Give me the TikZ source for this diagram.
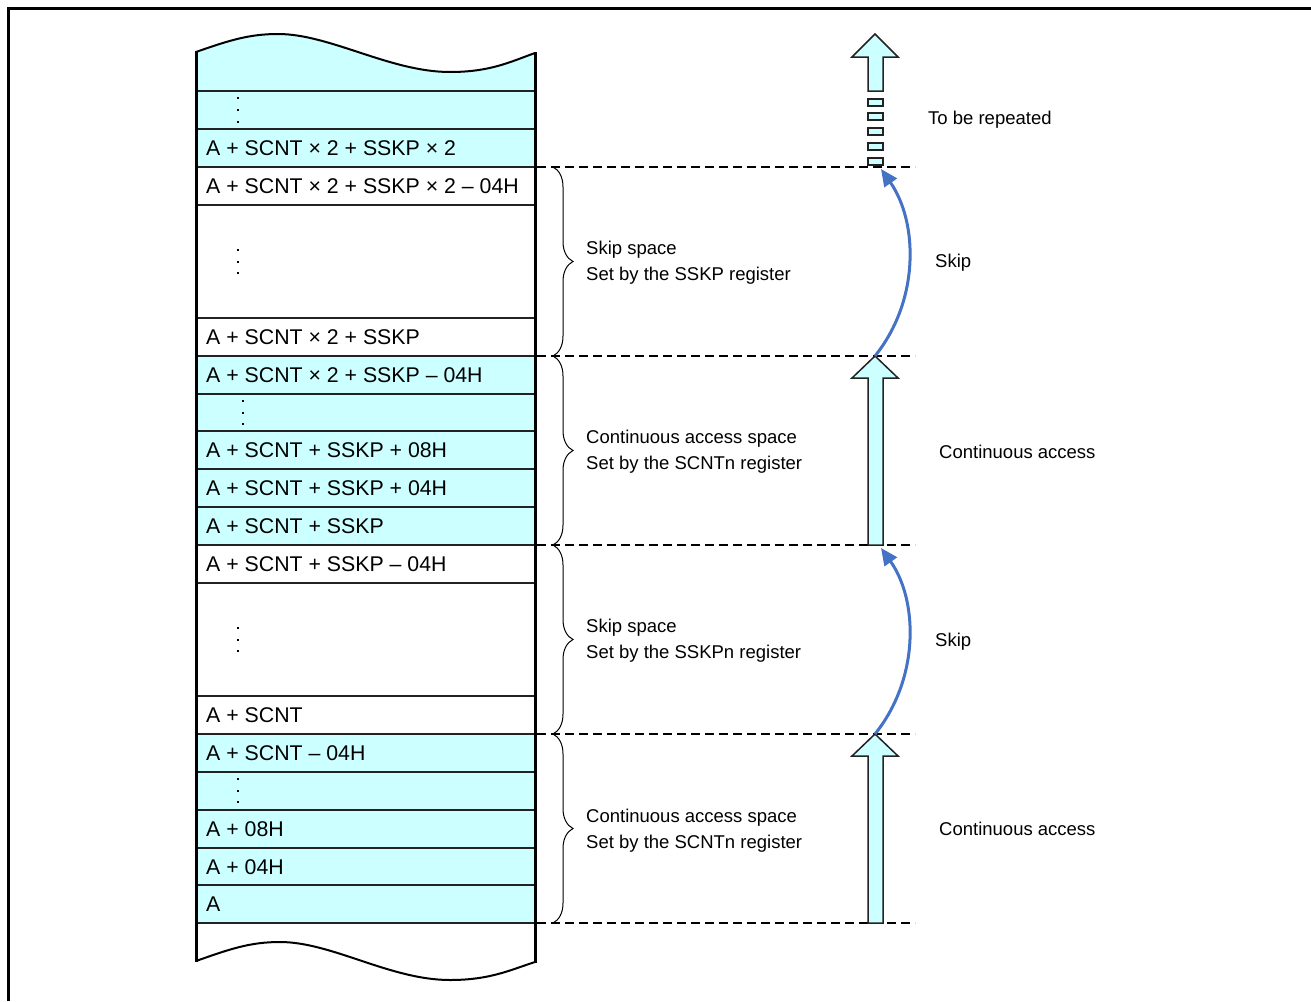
\documentclass[tikz,border=0pt]{standalone}
\usepackage{fontspec}
\setmainfont{Liberation Sans}
\usetikzlibrary{decorations.pathreplacing,arrows.meta}
\definecolor{memcyan}{HTML}{CCFFFF}
\definecolor{arrblue}{HTML}{4472C4}
\definecolor{edgegray}{HTML}{222222}
\begin{document}
\begin{tikzpicture}[x=1pt,y=-1pt,
 celltext/.style={anchor=base west, inner sep=0pt, font=\fontsize{21.3}{24}\selectfont},
 sidetext/.style={anchor=base west, inner sep=0pt, font=\fontsize{18.5}{22}\selectfont},
 rowline/.style={line width=1.5pt, draw=edgegray},
 sepline/.style={line width=1.8pt, dash pattern=on 9pt off 5pt},
 bracestyle/.style={decorate, decoration={brace, amplitude=20pt}, line width=1pt},
 blockarrow/.style={fill=memcyan, draw=edgegray, line width=1.5pt, line join=miter},
 skiparrow/.style={draw=arrblue, line width=3pt, -{Triangle[length=17pt,width=15pt]}},
 wave/.style={line width=2pt}
]
\useasboundingbox (0,0) rectangle (1311,1001);
% frame
\draw[line width=2.5pt] (8.5,1001) -- (8.5,8.5) -- (1311,8.5);

% memory fills
\fill[memcyan] (196,52) .. controls (230,40) and (250,34) .. (278,34)
  .. controls (330,34) and (390,72) .. (450,72)
  .. controls (490,72) and (510,62) .. (535,53) -- (535,167) -- (196,167) -- cycle;
\fill[memcyan] (196,356) rectangle (535,545);
\fill[memcyan] (196,734) rectangle (535,923);

% row lines
\foreach \yy in {91,129,167,205,318,356,394,431,469,507,545,583,696,734,772,810,848,885,923}
  \draw[rowline] (196,\yy) -- (535,\yy);

% wavy ends
\draw[wave] (196,52) .. controls (230,40) and (250,34) .. (278,34)
  .. controls (330,34) and (390,72) .. (450,72)
  .. controls (490,72) and (510,62) .. (535,53);
\draw[wave] (196,961) .. controls (230,949) and (250,942) .. (280,942)
  .. controls (332,942) and (390,980) .. (450,980)
  .. controls (490,980) and (510,970) .. (535,962);
% side walls
\draw[line width=3pt] (196,51) -- (196,962);
\draw[line width=3pt] (535,52) -- (535,963);

% dots
\foreach \xx/\ya/\yb/\yc in {238/98/110/122, 238/250/262/273, 243/401/413/424, 238/628/640/651, 238/779/791/802}{
  \fill (\xx-1.3,\ya-1.3) rectangle ++(2.6,2.6);
  \fill (\xx-1.3,\yb-1.3) rectangle ++(2.6,2.6);
  \fill (\xx-1.3,\yc-1.3) rectangle ++(2.6,2.6);
}

% cell texts
\node[celltext] (c1) at (206,155) {A + SCNT × 2 + SSKP × 2};
\node[celltext] (c2) at (206,193) {A + SCNT × 2 + SSKP × 2 – 04H};
\node[celltext] (c3) at (206,344) {A + SCNT × 2 + SSKP};
\node[celltext] (c4) at (206,382) {A + SCNT × 2 + SSKP – 04H};
\node[celltext] (c5) at (206,457) {A + SCNT + SSKP + 08H};
\node[celltext] (c6) at (206,495) {A + SCNT + SSKP + 04H};
\node[celltext] (c7) at (206,533) {A + SCNT + SSKP};
\node[celltext] (c8) at (206,571) {A + SCNT + SSKP – 04H};
\node[celltext] (c9) at (206,722) {A + SCNT};
\node[celltext] (c10) at (206,760) {A + SCNT – 04H};
\node[celltext] (c11) at (206,836) {A + 08H};
\node[celltext] (c12) at (206,874) {A + 04H};
\node[celltext] (c13) at (206,911) {A};

% dashed separators
\foreach \yy in {167,356,545,734,923}
  \draw[sepline] (537,\yy) -- (915,\yy);

% braces
\draw[bracestyle] (553,167) -- (553,356);
\draw[bracestyle] (553,356) -- (553,545);
\draw[bracestyle] (553,545) -- (553,734);
\draw[bracestyle] (553,734) -- (553,923);

% side texts
\node[sidetext] (s1a) at (586,254) {Skip space};
\node[sidetext] (s1b) at (586,280) {Set by the SSKP register};
\node[sidetext] (s2a) at (586,443) {Continuous access space};
\node[sidetext] (s2b) at (586,469) {Set by the SCNTn register};
\node[sidetext] (s3a) at (586,632) {Skip space};
\node[sidetext] (s3b) at (586,658) {Set by the SSKPn register};
\node[sidetext] (s4a) at (586,822) {Continuous access space};
\node[sidetext] (s4b) at (586,848) {Set by the SCNTn register};

\node[sidetext] (r0) at (928,124) {To be repeated};
\node[sidetext] (r1) at (935,267) {Skip};
\node[sidetext] (r2) at (939,458) {Continuous access};
\node[sidetext] (r3) at (935,646) {Skip};
\node[sidetext] (r4) at (939,835) {Continuous access};

% block arrows
\draw[blockarrow] (868,923) -- (868,756) -- (852,756) -- (875,734) -- (898,756) -- (883,756) -- (883,923) -- cycle;
\draw[blockarrow] (868,545) -- (868,378) -- (852,378) -- (875,356) -- (898,378) -- (883,378) -- (883,545) -- cycle;
\draw[blockarrow] (868,91) -- (868,57) -- (852,57) -- (875,34) -- (898,57) -- (883,57) -- (883,91) -- cycle;
\foreach \yy in {99,113,128,143,158}
  \draw[fill=memcyan, draw=edgegray, line width=1.5pt] (868,\yy) rectangle (883,\yy+7);

% skip arrows
\coordinate (k1s) at (875,734);
\coordinate (k1e) at (881,548);
\coordinate (k2s) at (875,356);
\coordinate (k2e) at (881,169);
\draw[skiparrow] (k1s) .. controls (920,678) and (918,600) .. (k1e);
\draw[skiparrow] (k2s) .. controls (920,300) and (918,222) .. (k2e);
\end{tikzpicture}
\end{document}
